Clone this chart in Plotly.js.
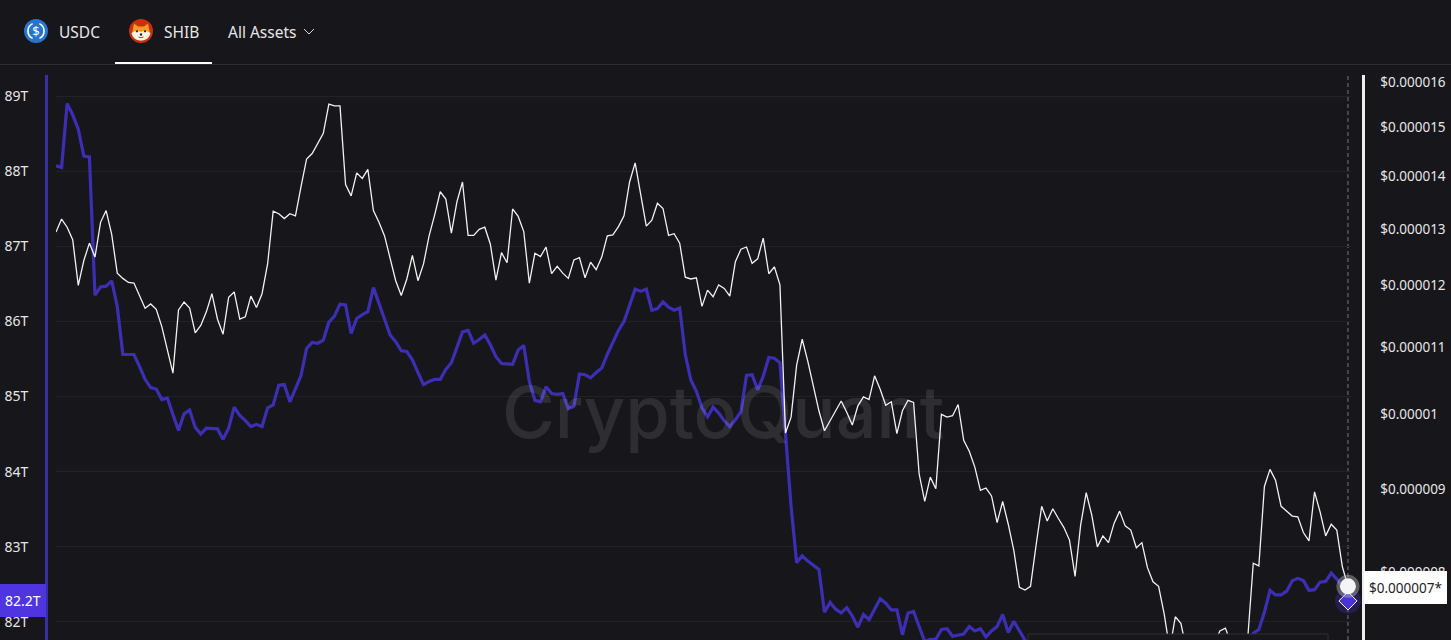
<!DOCTYPE html>
<html>
<head>
<meta charset="utf-8">
<script src="https://cdn.plot.ly/plotly-3.0.1.min.js"></script>
<style>html,body{margin:0;padding:0;background:#16161b;overflow:hidden}#chart{width:1451px;height:640px}</style>
</head>
<body>
<div id="chart"></div>
<script>
// Left axis: SHIB reserve in trillions. null = hidden beneath the panel / below the frame.
const reserveT = [
88.07,88.05,88.90,88.75,88.56,88.20,88.19,86.35,86.46,86.47,86.54,86.20,85.56,85.56,85.56,85.40,85.23,85.12,85.10,84.96,
84.98,84.76,84.55,84.77,84.82,84.59,84.50,84.58,84.58,84.57,84.43,84.58,84.86,84.75,84.68,84.60,84.63,84.60,84.85,84.89,
85.15,85.16,84.93,85.11,85.28,85.64,85.72,85.71,85.75,85.99,86.07,86.23,86.22,85.84,86.04,86.09,86.13,86.45,86.24,86.00,
85.82,85.73,85.61,85.60,85.49,85.32,85.16,85.20,85.23,85.23,85.36,85.45,85.65,85.86,85.88,85.71,85.76,85.82,85.69,85.53,
85.44,85.44,85.43,85.62,85.68,85.20,84.95,84.93,85.13,85.04,85.03,85.04,84.84,84.87,85.30,85.29,85.25,85.32,85.38,85.56,
85.73,85.88,86.00,86.22,86.43,86.40,86.43,86.15,86.17,86.26,86.19,86.15,86.18,85.56,85.22,85.07,84.85,84.73,84.86,84.78,
84.68,84.60,84.69,84.80,85.28,85.29,85.09,85.27,85.52,85.51,85.45,84.50,83.54,82.79,82.88,82.81,82.75,82.70,82.13,82.26,
82.17,82.12,82.19,82.08,81.93,82.10,82.03,82.17,82.31,82.25,82.16,82.16,81.83,82.12,82.14,81.94,81.74,81.77,81.77,81.90,
81.91,81.81,81.83,81.84,81.94,81.88,81.91,81.80,81.88,81.94,82.10,81.86,82.01,81.88,81.77,81.63,
null,null,null,null,null,null,null,null,null,null,null,null,null,null,null,null,null,null,null,
null,null,null,null,null,null,null,null,null,null,null,null,null,null,null,null,null,null,null,
81.63,81.85,81.90,82.13,82.42,82.36,82.36,82.41,82.55,82.58,82.55,82.42,82.43,82.53,82.54,82.65,82.57,82.47,82.28
];
// Right axis: SHIB price, in millionths of a dollar.
const priceMicro = [
12.94,13.18,13.03,12.80,12.00,12.43,12.74,12.49,13.12,13.34,12.90,12.21,12.12,12.05,12.04,11.84,11.62,11.69,11.60,11.32,
10.95,10.60,11.59,11.72,11.62,11.22,11.34,11.56,11.86,11.44,11.20,11.80,11.89,11.44,11.48,11.82,11.63,11.86,12.37,13.33,
13.28,13.19,13.28,13.24,13.80,14.35,14.46,14.68,14.88,15.51,15.47,15.47,13.84,13.62,14.07,13.96,14.14,13.34,13.12,12.87,
12.49,12.08,11.83,12.11,12.52,12.08,12.37,12.87,13.26,13.70,13.56,12.92,13.51,13.89,12.88,12.88,12.99,13.03,12.72,12.09,
12.57,12.39,13.37,13.23,12.95,12.04,12.56,12.50,12.67,12.20,12.33,12.21,12.12,12.44,12.48,12.13,12.40,12.27,12.49,12.87,
12.89,13.04,13.24,13.89,14.27,13.67,13.05,13.16,13.48,13.38,12.88,12.91,12.74,12.14,12.11,12.13,11.65,11.92,11.81,12.01,
11.95,11.82,12.41,12.63,12.67,12.38,12.46,12.83,12.20,12.32,12.01,9.74,9.96,10.72,11.12,10.78,10.40,10.05,9.77,9.91,
10.06,10.19,10.03,9.85,10.12,10.25,10.21,10.56,10.36,10.13,10.18,9.73,10.05,10.20,10.17,9.19,8.84,9.15,9.00,10.00,
9.96,9.98,10.14,9.64,9.49,9.28,8.98,9.01,8.91,8.58,8.84,8.56,8.25,7.83,7.80,7.84,8.31,8.78,8.60,8.75,
8.63,8.52,8.37,7.95,8.55,8.95,8.67,8.29,8.42,8.34,8.57,8.72,8.54,8.49,8.28,8.34,8.05,7.89,7.84,7.54,
7.17,7.51,7.44,7.17,null,null,null,null,7.23,7.36,7.39,7.23,null,null,7.28,8.10,8.07,9.03,9.25,9.11,
8.78,8.72,8.66,8.65,8.46,8.36,8.96,8.71,8.42,8.56,8.49,8.06,7.84
];
const sampleIndex = reserveT.map((_, i) => i);

const leftTickVals = [82,83,84,85,86,87,88,89];
const leftTickText = ['82T','83T','84T','85T','86T','87T','88T','89T'];
const rightTickVals = [8,9,10,11,12,13,14,15,16];
const rightTickText = ['$0.000008','$0.000009','$0.00001','$0.000011','$0.000012','$0.000013','$0.000014','$0.000015','$0.000016'];
const tabLabels = ['USDC','SHIB','All Assets'];
const reserveLabel = '82.2T';
const priceLabel = '$0.000007*';
const watermark = 'CryptoQuant';

const W = 1451, H = 640;
const px = x => x / W, py = y => 1 - y / H;
const BG = '#16161b', PURPLE = '#3d2fb3', LABEL = '#e6e6e6';
const last = reserveT.length - 1;

const usdcIcon = 'data:image/svg+xml;utf8,' + encodeURIComponent(
 '<svg xmlns="http://www.w3.org/2000/svg" viewBox="0 0 24 24"><circle cx="12" cy="12" r="12" fill="#2775ca"/>'+
 '<path d="M8.6 4.6a8.2 8.2 0 0 0 0 14.8M15.4 4.6a8.2 8.2 0 0 1 0 14.8" fill="none" stroke="#fff" stroke-width="1.6"/>'+
 '<text x="12" y="16.6" text-anchor="middle" font-family="Noto Sans" font-size="13" fill="#fff">$</text></svg>');
const shibIcon = 'data:image/svg+xml;utf8,' + encodeURIComponent(
 '<svg xmlns="http://www.w3.org/2000/svg" viewBox="0 0 24 24"><circle cx="12" cy="12" r="12" fill="#c9300e"/>'+
 '<path d="M3.5 12 5 4.5 9 7.5h6l4-3L20.5 12l.5 4H3z" fill="#f59a23"/>'+
 '<path d="M2.5 14c3-1.6 5.5-3 9.5-1 4-2 6.5-.6 9.500 1-1 5-5 7.500-9.500 7.500S3.500 19 2.500 14z" fill="#fff4e6"/>'+
 '<circle cx="8" cy="12.300" r="1.100" fill="#222"/><circle cx="16" cy="12.300" r="1.100" fill="#222"/>'+
 '<circle cx="12" cy="15.500" r="1.200" fill="#222"/><path d="M9.500 18q2.500 1.500 5 0" stroke="#c9300e" fill="none"/></svg>');

const traces = [
 {x: sampleIndex, y: priceMicro, yaxis: 'y2', mode: 'lines', line: {color: '#f2f2f2', width: 1.3}, connectgaps: false, hoverinfo: 'skip'},
 {x: sampleIndex, y: reserveT, yaxis: 'y', mode: 'lines', line: {color: PURPLE, width: 3.2}, connectgaps: false, hoverinfo: 'skip'},
 {x: [sampleIndex[last]], y: [reserveT[last]], yaxis: 'y', mode: 'markers', cliponaxis: false, hoverinfo: 'skip',
  marker: {symbol: 'circle', size: 26, color: 'rgba(75,50,212,0.28)'}},
 {x: [sampleIndex[last]], y: [reserveT[last]], yaxis: 'y', mode: 'markers', cliponaxis: false, hoverinfo: 'skip',
  marker: {symbol: 'diamond', size: 14, color: '#4a33d6', line: {color: '#ffffff', width: 1}}},
 {x: [sampleIndex[last]], y: [priceMicro[last]], yaxis: 'y2', mode: 'markers', cliponaxis: false, hoverinfo: 'skip',
  marker: {symbol: 'circle', size: 23, color: 'rgba(190,190,190,0.42)'}},
 {x: [sampleIndex[last]], y: [priceMicro[last]], yaxis: 'y2', mode: 'markers', cliponaxis: false, hoverinfo: 'skip',
  marker: {symbol: 'circle', size: 16, color: '#f4f4f6'}}
];

const FONT = 'Noto Sans, sans-serif';
const layout = {
 width: W, height: H, showlegend: false,
 paper_bgcolor: BG, plot_bgcolor: BG,
 margin: {l: 0, r: 0, t: 0, b: 0, pad: 0},
 font: {family: FONT, color: LABEL, size: 13},
 xaxis: {domain: [px(56), px(1351)], range: [0, 232.55], visible: false, fixedrange: true},
 yaxis: {
  domain: [0, py(75)], range: [81.76, 89.28], anchor: 'free', position: px(46), side: 'left',
  tickmode: 'array', tickvals: leftTickVals, ticktext: leftTickText, ticks: '', ticklabelstandoff: 14,
  showline: true, linecolor: '#3a2da6', linewidth: 2.5, showgrid: true, gridcolor: '#212126', gridwidth: 1,
  zeroline: false, fixedrange: true, automargin: false, tickfont: {family: FONT, size: 14, color: LABEL}
 },
 yaxis2: {
  domain: [0, py(75)], type: 'log', range: [Math.log10(7.267), Math.log10(16.16)], overlaying: 'y',
  anchor: 'free', position: px(1363), side: 'right',
  tickmode: 'array', tickvals: rightTickVals, ticktext: rightTickText, ticks: '', ticklabelstandoff: 13,
  showline: true, linecolor: '#eeeeee', linewidth: 2.5, showgrid: false, zeroline: false,
  fixedrange: true, automargin: false, tickfont: {family: FONT, size: 13.5, color: LABEL}
 },
 images: [
  {source: usdcIcon, xref: 'paper', yref: 'paper', x: px(24), y: py(19), sizex: 24/W, sizey: 24/H, xanchor: 'left', yanchor: 'top', sizing: 'stretch', layer: 'above'},
  {source: shibIcon, xref: 'paper', yref: 'paper', x: px(129), y: py(19), sizex: 24/W, sizey: 24/H, xanchor: 'left', yanchor: 'top', sizing: 'stretch', layer: 'above'}
 ],
 shapes: [
  {type: 'line', xref: 'paper', yref: 'paper', x0: 0, x1: 1, y0: py(64.5), y1: py(64.5), line: {color: '#2d2d33', width: 1}},
  {type: 'line', xref: 'paper', yref: 'paper', x0: px(115), x1: px(212), y0: py(63), y1: py(63), line: {color: '#ffffff', width: 2}},
  {type: 'path', xref: 'paper', yref: 'paper', line: {color: '#d8d8d8', width: 1},
   path: `M ${px(304)} ${py(29)} L ${px(309)} ${py(34)} L ${px(314)} ${py(29)}`},
  {type: 'line', xref: 'x', yref: 'paper', x0: sampleIndex[last], x1: sampleIndex[last], y0: 0, y1: py(75), layer: 'below',
   line: {color: '#77777c', width: 1, dash: '4px,3px'}},
  {type: 'rect', xref: 'paper', yref: 'paper', x0: px(1028), x1: px(1328), y0: py(641), y1: py(634), layer: 'above',
   fillcolor: BG, line: {color: '#2f2f35', width: 1}},
  {type: 'rect', xref: 'paper', yref: 'paper', x0: 0, x1: px(46), y0: py(617), y1: py(584), layer: 'above',
   fillcolor: '#4e35e0', line: {width: 0}},
  {type: 'rect', xref: 'paper', yref: 'paper', x0: px(1364), x1: px(1447), y0: py(604), y1: py(571), layer: 'above',
   fillcolor: '#ffffff', line: {width: 0}}
 ],
 annotations: [
  {text: tabLabels[0], xref: 'paper', yref: 'paper', x: px(56.5), y: py(32), xanchor: 'left', yanchor: 'middle', showarrow: false, font: {size: 15.5, color: LABEL}},
  {text: tabLabels[1], xref: 'paper', yref: 'paper', x: px(161.5), y: py(32), xanchor: 'left', yanchor: 'middle', showarrow: false, font: {size: 15.5, color: LABEL}},
  {text: tabLabels[2], xref: 'paper', yref: 'paper', x: px(225.5), y: py(32), xanchor: 'left', yanchor: 'middle', showarrow: false, font: {size: 15.5, color: LABEL}},
  {text: reserveLabel, xref: 'paper', yref: 'paper', x: px(23), y: py(600.5), xanchor: 'center', yanchor: 'middle', showarrow: false, font: {size: 14, color: '#ffffff'}},
  {text: priceLabel, xref: 'paper', yref: 'paper', x: px(1405.5), y: py(588), xanchor: 'center', yanchor: 'middle', showarrow: false, font: {size: 13.5, color: '#222226'}},
  {text: watermark, xref: 'paper', yref: 'paper', x: px(723), y: py(411), xanchor: 'center', yanchor: 'middle', showarrow: false,
   font: {family: 'Inter, sans-serif', size: 72, weight: 500, color: 'rgba(255,255,255,0.1)'}}
 ]
};
Plotly.newPlot('chart', traces, layout, {staticPlot: true, displayModeBar: false});
</script>
</body>
</html>
